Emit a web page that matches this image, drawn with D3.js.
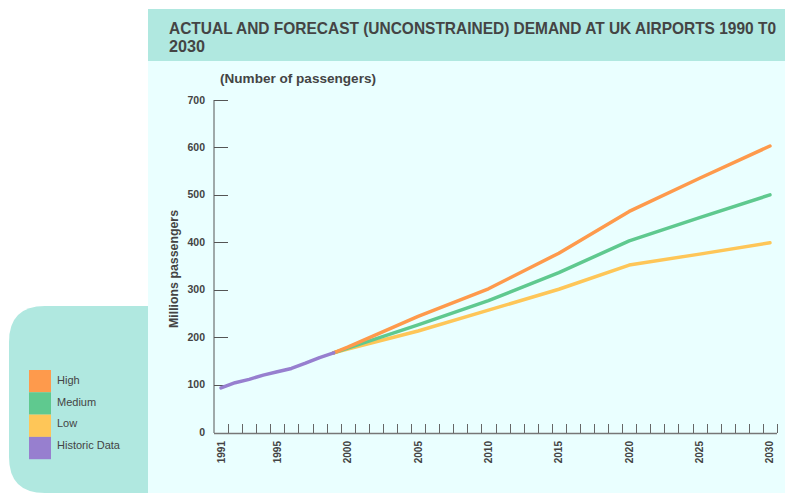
<!DOCTYPE html>
<html>
<head>
<meta charset="utf-8">
<script src="https://cdn.jsdelivr.net/npm/d3@7"></script>
<style>
  body { margin: 0; background: #ffffff; }
  svg { display: block; font-family: "Liberation Sans", Arial, sans-serif; }
</style>
</head>
<body>
<div id="chart"></div>
<script>
// historic passengers (millions)
var historicYears = [1991, 1992, 1993, 1994, 1995, 1996, 1997, 1998, 1999];
var historicValues = [93, 104, 111, 120, 127, 134, 145, 157, 167];

// forecast scenarios
var forecastYears = [1999, 2000, 2005, 2010, 2015, 2020, 2025, 2030];
var highValues = [167, 179, 244, 302, 377, 465, 535, 603];
var mediumValues = [167, 177, 226, 277, 336, 403, 452, 500];
var lowValues = [167, 175, 213, 257, 301, 352, 375, 399];

var yTicks = [0, 100, 200, 300, 400, 500, 600, 700];
var xLabels = [1991, 1995, 2000, 2005, 2010, 2015, 2020, 2025, 2030];

var legendNames = ["High", "Medium", "Low", "Historic Data"];
var legendColors = ["#fe9a4c", "#5fc98f", "#fec658", "#977fcf"];

var width = 785, height = 493;

var svg = d3.select("#chart").append("svg")
    .attr("width", width)
    .attr("height", height);

// panels
svg.append("rect")
    .attr("x", 148).attr("y", 61)
    .attr("width", width - 148).attr("height", height - 61)
    .attr("fill", "#eaffff");

svg.append("rect")
    .attr("x", 148).attr("y", 9)
    .attr("width", width - 148).attr("height", 52)
    .attr("fill", "#b0e8e0");

// legend panel, rounded on the left
svg.append("path")
    .attr("d", "M148,306 L45,306 Q9,306 9,342 L9,457 Q9,493 45,493 L148,493 Z")
    .attr("fill", "#b0e8e0");

svg.append("text")
    .attr("x", 169).attr("y", 34)
    .attr("textLength", 607)
    .attr("lengthAdjust", "spacingAndGlyphs")
    .style("font-size", "16.5px")
    .style("font-weight", "bold")
    .style("fill", "#444")
    .text("ACTUAL AND FORECAST (UNCONSTRAINED) DEMAND AT UK AIRPORTS 1990 T0");

svg.append("text")
    .attr("x", 169).attr("y", 52)
    .attr("textLength", 36)
    .attr("lengthAdjust", "spacingAndGlyphs")
    .style("font-size", "16.5px")
    .style("font-weight", "bold")
    .style("fill", "#444")
    .text("2030");

svg.append("text")
    .attr("x", 220).attr("y", 83)
    .attr("textLength", 156)
    .attr("lengthAdjust", "spacingAndGlyphs")
    .style("font-size", "13px")
    .style("font-weight", "bold")
    .style("fill", "#444")
    .text("(Number of passengers)");

// scales
var allYears = d3.range(1991, 2031);
var x = d3.scaleBand()
    .domain(allYears)
    .range([214, 777])
    .padding(0);

var y = d3.scaleLinear()
    .domain([0, 700])
    .range([432, 100]);

function xc(d) {
    return x(d) + x.bandwidth() / 2;
}

// y axis
var yAxis = svg.append("g");

yAxis.append("line")
    .attr("x1", 214).attr("x2", 214)
    .attr("y1", y(700)).attr("y2", 433)
    .attr("stroke", "#555").attr("stroke-width", 1);

yAxis.selectAll(".ytick")
    .data(yTicks.filter(function(d) { return d > 0; }))
    .enter().append("line")
    .attr("x1", 214).attr("x2", 228)
    .attr("y1", function(d) { return Math.round(y(d)) + 0.5; })
    .attr("y2", function(d) { return Math.round(y(d)) + 0.5; })
    .attr("stroke", "#555");

yAxis.selectAll(".ylabel")
    .data(yTicks)
    .enter().append("text")
    .attr("x", 205)
    .attr("y", function(d) { return y(d) + 3.5; })
    .attr("text-anchor", "end")
    .style("font-size", "10.5px")
    .style("font-weight", "bold")
    .style("fill", "#444")
    .text(function(d) { return d; });

svg.append("text")
    .attr("transform", "translate(178,269) rotate(-90)")
    .attr("text-anchor", "middle")
    .attr("textLength", 118)
    .attr("lengthAdjust", "spacingAndGlyphs")
    .style("font-size", "12px")
    .style("font-weight", "bold")
    .style("fill", "#444")
    .text("Millions passengers");

// x axis
var xAxis = svg.append("g");

xAxis.append("line")
    .attr("x1", 214).attr("x2", 777)
    .attr("y1", 433.5).attr("y2", 433.5)
    .attr("stroke", "#777").attr("stroke-width", 1.5);

xAxis.selectAll(".xtick")
    .data(allYears)
    .enter().append("line")
    .attr("x1", function(d) { return Math.round(x(d) + x.bandwidth()) + 0.5; })
    .attr("x2", function(d) { return Math.round(x(d) + x.bandwidth()) + 0.5; })
    .attr("y1", 424).attr("y2", 433)
    .attr("stroke", "#666");

xAxis.selectAll(".xlabel")
    .data(xLabels)
    .enter().append("text")
    .attr("transform", function(d) { return "translate(" + (xc(d) + 3.5) + ",441) rotate(-90)"; })
    .attr("text-anchor", "end")
    .style("font-size", "10px")
    .style("font-weight", "bold")
    .style("fill", "#444")
    .text(function(d) { return d; });

// lines
var line = d3.line()
    .x(function(d) { return xc(d[0]); })
    .y(function(d) { return y(d[1]); });

var series = [
    {years: forecastYears, values: lowValues, color: legendColors[2]},
    {years: forecastYears, values: mediumValues, color: legendColors[1]},
    {years: forecastYears, values: highValues, color: legendColors[0]},
    {years: historicYears, values: historicValues, color: legendColors[3]}
];

svg.selectAll(".series")
    .data(series)
    .enter().append("path")
    .attr("class", "series")
    .attr("d", function(s) {
        return line(s.years.map(function(yr, i) { return [yr, s.values[i]]; }));
    })
    .attr("fill", "none")
    .attr("stroke", function(s) { return s.color; })
    .attr("stroke-width", 3.5)
    .attr("stroke-linejoin", "round")
    .attr("stroke-linecap", "round");

// legend
var legend = svg.append("g");

legend.selectAll("rect")
    .data(legendNames)
    .enter().append("rect")
    .attr("x", 29)
    .attr("y", function(d, i) { return 370 + i * 22.3; })
    .attr("width", 22)
    .attr("height", 22.3)
    .attr("fill", function(d, i) { return legendColors[i]; });

legend.selectAll("text")
    .data(legendNames)
    .enter().append("text")
    .attr("x", 57)
    .attr("y", function(d, i) { return 384 + i * 21.5; })
    .style("font-size", "11px")
    .style("fill", "#444")
    .text(function(d) { return d; });
</script>
</body>
</html>
